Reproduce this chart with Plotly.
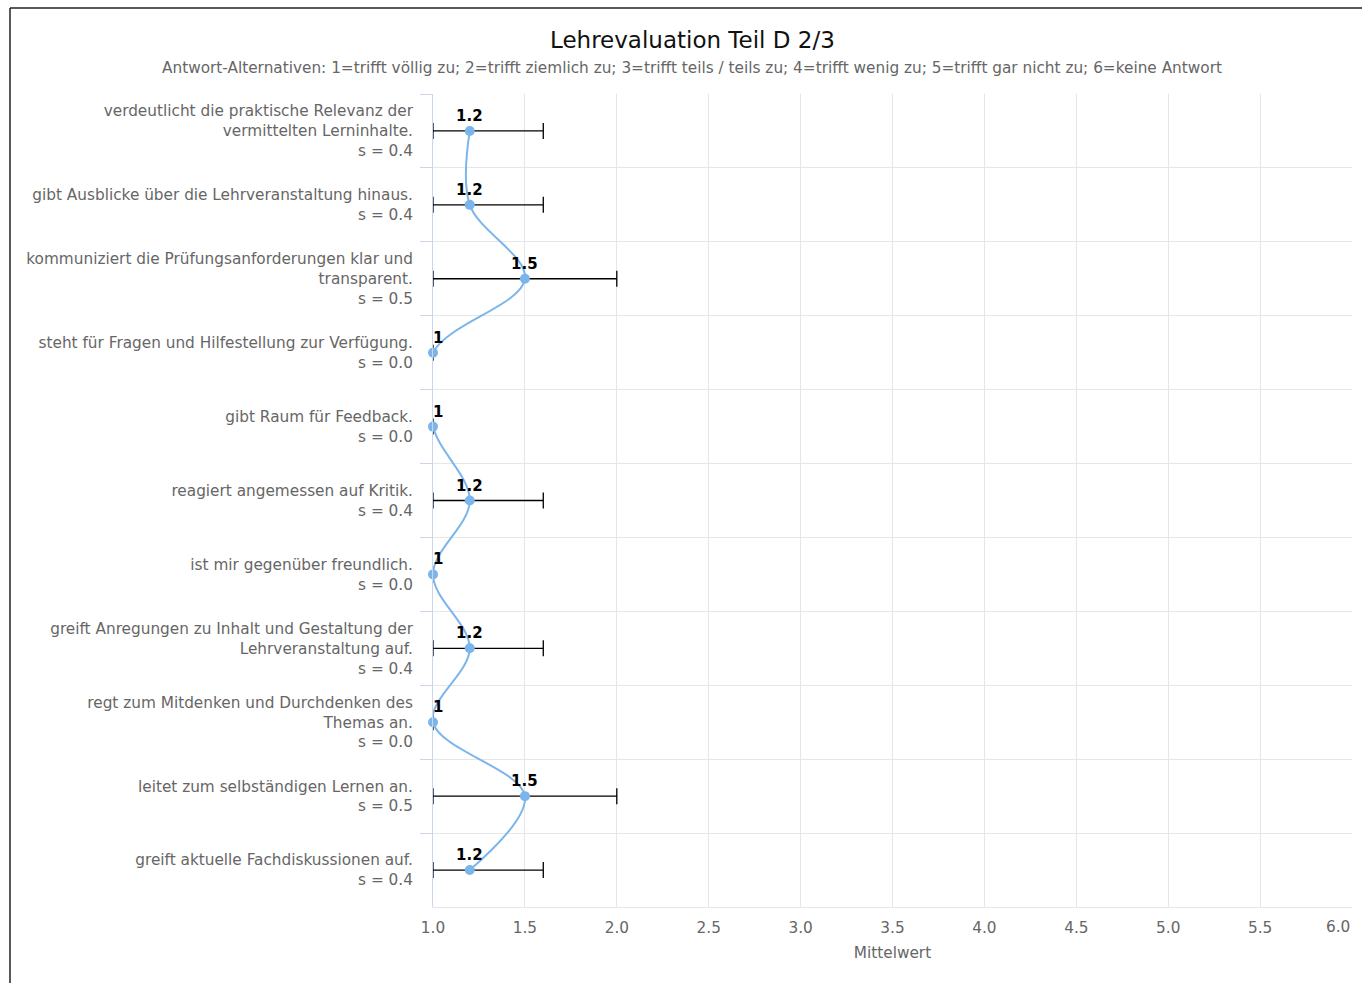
import plotly.graph_objects as go

# ---------------- data ----------------
item_names = [
    "verdeutlicht die praktische Relevanz der<br>vermittelten Lerninhalte.",
    "gibt Ausblicke über die Lehrveranstaltung hinaus.",
    "kommuniziert die Prüfungsanforderungen klar und<br>transparent.",
    "steht für Fragen und Hilfestellung zur Verfügung.",
    "gibt Raum für Feedback.",
    "reagiert angemessen auf Kritik.",
    "ist mir gegenüber freundlich.",
    "greift Anregungen zu Inhalt und Gestaltung der<br>Lehrveranstaltung auf.",
    "regt zum Mitdenken und Durchdenken des<br>Themas an.",
    "leitet zum selbständigen Lernen an.",
    "greift aktuelle Fachdiskussionen auf.",
]
means = [1.2, 1.2, 1.5, 1, 1, 1.2, 1, 1.2, 1, 1.5, 1.2]
std_devs = [0.4, 0.4, 0.5, 0.0, 0.0, 0.4, 0.0, 0.4, 0.0, 0.5, 0.4]
x_ticks = [1.0, 1.5, 2.0, 2.5, 3.0, 3.5, 4.0, 4.5, 5.0, 5.5, 6.0]

title_text = "Lehrevaluation Teil D 2/3"
subtitle_text = ("Antwort-Alternativen: 1=trifft völlig zu; 2=trifft ziemlich zu; "
                 "3=trifft teils / teils zu; 4=trifft wenig zu; 5=trifft gar nicht zu; "
                 "6=keine Antwort")
x_title = "Mittelwert"

# ---------------- layout geometry ----------------
W, H = 1362, 983
ML, MR, MT, MB = 433, 10, 94, 76
PW, PH = W - ML - MR, H - MT - MB


def px_x(px):
    return (px - ML) / PW


def px_y(py):
    return (H - MB - py) / PH


FONT = "DejaVu Sans"
BLUE = "#7cb5ec"
GREY = "#666666"
FS = 15.3

categories = [f"{n}<br>s = {s:.1f}" for n, s in zip(item_names, std_devs)]
x_min, x_max = x_ticks[0], x_ticks[-1]
err_minus = [min(s, m - x_min) for m, s in zip(means, std_devs)]
tick_text = [f"{t:.1f}" if t != x_max else "" for t in x_ticks]

fig = go.Figure()

# error bars (own trace)
fig.add_trace(go.Scatter(
    x=means, y=categories, mode="markers",
    marker=dict(size=1, color="rgba(0,0,0,0)"),
    error_x=dict(type="data", symmetric=False, array=std_devs, arrayminus=err_minus,
                 color="#000000", thickness=1.3, width=8),
    hoverinfo="skip", showlegend=False,
))

# line + markers
fig.add_trace(go.Scatter(
    x=means, y=categories, mode="lines+markers",
    line=dict(color=BLUE, width=2, shape="spline", smoothing=1),
    marker=dict(size=10, color=BLUE),
    cliponaxis=False, showlegend=False,
))

annotations = []
for m, c in zip(means, categories):
    annotations.append(dict(
        x=m, y=c, xref="x", yref="y", text=f"<b>{m:g}</b>", showarrow=False,
        xanchor="center", yanchor="middle", yshift=15, xshift=5 if m == x_min else 0,
        font=dict(family=FONT, size=15, color="#000000"),
    ))

# last x tick label, kept inside the figure (right-aligned at the axis end)
annotations.append(dict(
    x=x_max, y=px_y(927), xref="x", yref="paper", text=f"{x_max:.1f}",
    showarrow=False, xanchor="right", yanchor="middle",
    font=dict(family=FONT, size=FS, color=GREY),
))

annotations.append(dict(
    x=px_x(692), y=px_y(40), xref="paper", yref="paper", text=title_text,
    showarrow=False, xanchor="center", yanchor="middle",
    font=dict(family=FONT, size=23, color="#111111"),
))
annotations.append(dict(
    x=px_x(692), y=px_y(68), xref="paper", yref="paper", text=subtitle_text,
    showarrow=False, xanchor="center", yanchor="middle",
    font=dict(family=FONT, size=FS, color=GREY),
))

shapes = [
    dict(type="line", xref="paper", yref="paper",
         x0=px_x(10), x1=px_x(10), y0=px_y(8), y1=px_y(H + 20),
         line=dict(color="#222222", width=1.5)),
    dict(type="line", xref="paper", yref="paper",
         x0=px_x(10), x1=px_x(W + 20), y0=px_y(8), y1=px_y(8),
         line=dict(color="#222222", width=1.5)),
]

n = len(categories)
fig.update_layout(
    width=W, height=H,
    margin=dict(l=ML, r=MR, t=MT, b=MB, pad=0),
    paper_bgcolor="white", plot_bgcolor="white",
    font=dict(family=FONT, size=FS, color=GREY),
    annotations=annotations, shapes=shapes,
    xaxis=dict(
        range=[x_min, x_max], tickvals=x_ticks, ticktext=tick_text,
        showgrid=True, gridcolor="#e6e6e6", gridwidth=1,
        zeroline=False, showline=True, linecolor="#e6e6e6", linewidth=1,
        ticks="", tickfont=dict(family=FONT, size=FS, color=GREY),
        ticklabelstandoff=7,
        title=dict(text=x_title, font=dict(family=FONT, size=FS, color=GREY), standoff=10),
    ),
    yaxis=dict(
        type="category", categoryorder="array", categoryarray=categories,
        range=[n - 0.5, -0.5],
        tickson="boundaries", ticks="outside", ticklen=12, tickcolor="#ccd6eb",
        showgrid=True, gridcolor="#e6e6e6", gridwidth=1,
        showline=True, linecolor="#ccd6eb", linewidth=1, zeroline=False,
        tickfont=dict(family=FONT, size=FS, color=GREY),
        ticklabelstandoff=16,
    ),
)

fig.write_html("out.html", config={"displayModeBar": False},
               post_script="document.body.style.margin='0';document.body.style.overflow='hidden';")
